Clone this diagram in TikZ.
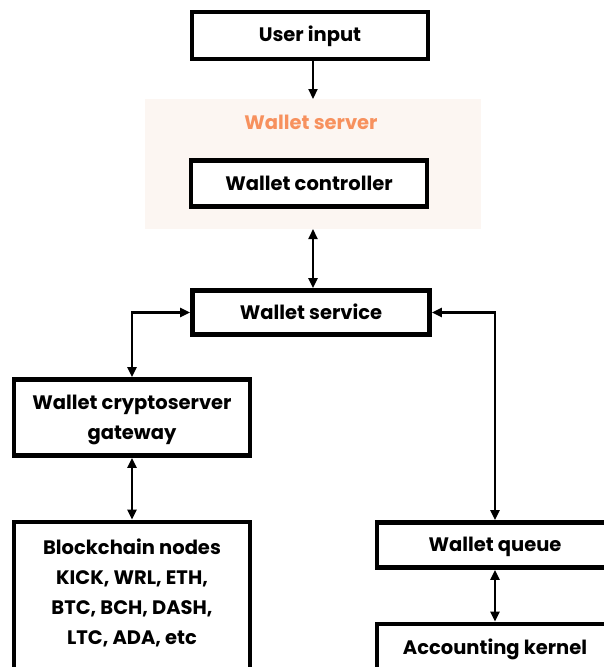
\documentclass[tikz,border=0pt]{standalone}
\usepackage{fontspec}
\setmainfont{Poppins}
\usetikzlibrary{arrows.meta}
\definecolor{srvbg}{HTML}{FCF6F2}
\definecolor{srvlbl}{HTML}{F7915E}
\tikzset{
  lbl/.style={font=\fontsize{19.5}{30}\selectfont\bfseries, align=center, inner sep=0pt},
  box/.style={draw=black, line width=4.8pt, fill=white, minimum width=236pt, inner sep=0pt},
  conn/.style={line width=2.2pt, -{Triangle[length=10pt,width=9pt]}},
  bconn/.style={line width=2.2pt, {Triangle[length=10pt,width=9pt]}-{Triangle[length=10pt,width=9pt]}}
}
\begin{document}
\begin{tikzpicture}[x=1pt,y=-1pt]
\useasboundingbox (0,0) rectangle (604,667);
\clip (0,0) rectangle (604,667);
\fill[white] (0,0) rectangle (604,667);
\fill[srvbg] (145,99) rectangle (481,229);
\node[lbl, text=srvlbl] (srvlabel) at (311,122) {Wallet server};
\coordinate (srvtop) at (313,99);
\coordinate (srvbot) at (313,229);
\node[box, minimum height=47pt] (ui) at (310,35.5) {};
\node[lbl] (uitext) at (310,36.5) {User input};
\node[box, minimum height=46pt] (wc) at (309,183.5) {};
\node[lbl] (wctext) at (309,183.5) {Wallet controller};
\node[box, minimum height=44pt, minimum width=237pt] (ws) at (311,312.5) {};
\node[lbl] (wstext) at (311,312) {Wallet service};
\node[box, minimum height=76pt] (gw) at (132,417.5) {};
\node[lbl] (gwtext) at (132,419.5) {Wallet cryptoserver\\gateway};
\node[box, minimum height=176pt] (bc) at (132,610) {};
\node[lbl, anchor=north] (bctext) at (132,539) {Blockchain nodes\\KICK, WRL, ETH,\\BTC, BCH, DASH,\\LTC, ADA, etc};
\node[box, minimum height=45pt] (wq) at (495,545) {};
\node[lbl] (wqtext) at (495,547) {Wallet queue};
\node[box, minimum height=60pt] (ak) at (495,654) {};
\node[lbl] (aktext) at (495,649) {Accounting kernel};
\draw[conn] (ui.south -| srvtop) -- (srvtop);
\draw[bconn] (srvbot) -- (ws.north -| srvbot);
\draw[bconn] (ws.west) -| (gw.north);
\draw[bconn] (ws.east) -| (wq.north);
\draw[bconn] (gw.south) -- (bc.north);
\draw[bconn] (wq.south) -- (ak.north);
\end{tikzpicture}
\end{document}
